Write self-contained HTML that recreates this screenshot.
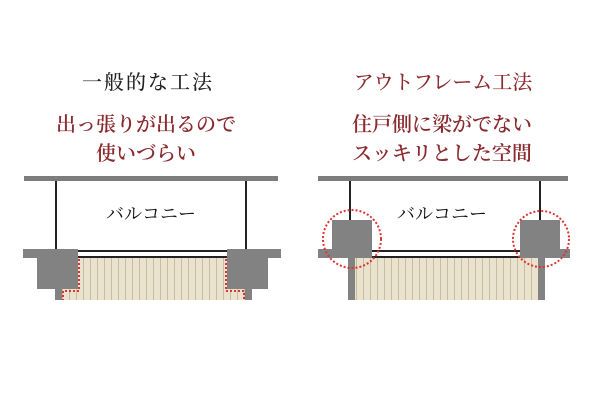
<!DOCTYPE html>
<html><head><meta charset="utf-8"><style>
body{margin:0;background:#fff;width:600px;height:400px;overflow:hidden}
svg{display:block}
text{font-family:"Liberation Serif","Noto Serif CJK SC",serif}
</style></head><body>
<svg width="600" height="400" viewBox="0 0 600 400">
<defs>
<pattern id="st" width="7" height="10" patternUnits="userSpaceOnUse">
<rect width="7" height="10" fill="#e9e2cf"/><rect x="6" width="1" height="10" fill="#c9bd9c"/>
</pattern>
</defs>
<g font-size="20" text-anchor="middle" font-weight="600">
<text x="148" y="89" fill="#222" letter-spacing="2" font-weight="500">一般的な工法</text>
<text x="146" y="131" fill="#8b2a2f">出っ張りが出るので</text>
<text x="146" y="160" fill="#8b2a2f">使いづらい</text>
<text x="443" y="89" fill="#8b2a2f" font-weight="500">アウトフレーム工法</text>
<text x="442" y="131" fill="#8b2a2f">住戸側に梁がでない</text>
<text x="442" y="160" fill="#8b2a2f">スッキリとした空間</text>
</g>
<rect x="24" y="176" width="254" height="5" fill="#7d7d7d"/>
<rect x="55" y="181" width="2" height="69" fill="#222"/>
<rect x="245" y="181" width="2" height="69" fill="#222"/>
<text x="151" y="220" font-size="18" text-anchor="middle" fill="#111" font-family="Liberation Sans,Noto Sans CJK JP,sans-serif">バルコニー</text>
<rect x="62" y="258" width="185" height="42" fill="url(#st)"/>
<path d="M23 249H78V289H62V300H55V289H37V258H23Z" fill="#828282"/>
<path d="M281 249H227V289H245V300H252V289H268V258H281Z" fill="#828282"/>
<rect x="78" y="250" width="149" height="2" fill="#222"/>
<rect x="78" y="256" width="149" height="2" fill="#222"/>
<path d="M79 259V291H63V300" fill="none" stroke="#d33" stroke-width="2" stroke-dasharray="2 2"/>
<path d="M226 259V291H244V300" fill="none" stroke="#d33" stroke-width="2" stroke-dasharray="2 2"/>
<rect x="318" y="176" width="250" height="5" fill="#7d7d7d"/>
<rect x="349" y="181" width="2" height="40" fill="#222"/>
<rect x="539" y="181" width="2" height="40" fill="#222"/>
<text x="442" y="220" font-size="18" text-anchor="middle" fill="#111" font-family="Liberation Sans,Noto Sans CJK JP,sans-serif">バルコニー</text>
<rect x="355" y="258" width="183" height="42" fill="url(#st)"/>
<rect x="318" y="249" width="54" height="9" fill="#828282"/>
<rect x="520" y="249" width="50" height="9" fill="#828282"/>
<rect x="332" y="220" width="40" height="38" fill="#828282"/>
<rect x="520" y="220" width="40" height="38" fill="#828282"/>
<rect x="348" y="258" width="7" height="42" fill="#828282"/>
<rect x="538" y="258" width="7" height="42" fill="#828282"/>
<rect x="372" y="250" width="148" height="2" fill="#222"/>
<rect x="372" y="256" width="148" height="2" fill="#222"/>
<circle cx="352" cy="239" r="29" fill="none" stroke="#d33" stroke-width="2" stroke-dasharray="2 2"/>
<circle cx="541" cy="239" r="28" fill="none" stroke="#d33" stroke-width="2" stroke-dasharray="2 2"/>
</svg>
</body></html>
